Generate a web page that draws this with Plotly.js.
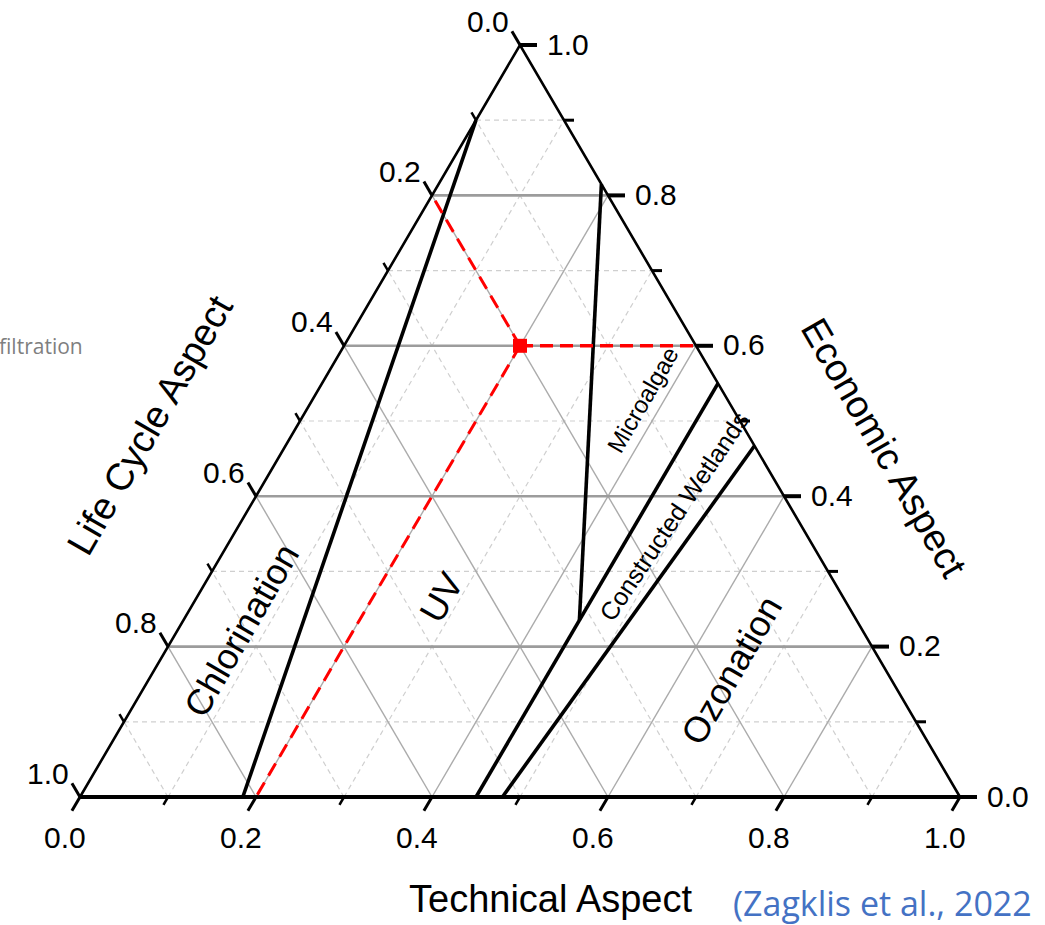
<!DOCTYPE html>
<html><head><meta charset="utf-8">
<script src="https://cdn.plot.ly/plotly-3.0.1.min.js"></script>
<style>html,body{margin:0;padding:0;background:#fff;overflow:hidden}#chart{width:1045px;height:925px}</style>
</head><body><div id="chart"></div>
<script>
// ---- Axis ticks (all three axes share the same values) ----
const majorTicks = [0, 0.2, 0.4, 0.6, 0.8, 1.0];
const minorTicks = [0.1, 0.3, 0.5, 0.7, 0.9];
const tickLabels = ['0.0', '0.2', '0.4', '0.6', '0.8', '1.0'];
const axisTitles = ['Technical Aspect', 'Life Cycle Aspect', 'Economic Aspect'];

// ---- Region boundary lines, given as (Technical, Economic); Life Cycle = 1 - T - E ----
const chlorUvT = [0.0, 0.185];   const chlorUvE = [0.90, 0.0];
const microT   = [0.185, 0.45];  const microE   = [0.815, 0.235];
const uvWetT   = [0.45, 0.45];   const uvWetE   = [0.0, 0.55];
const wetOzT   = [0.48, 0.533];  const wetOzE   = [0.0, 0.467];

// ---- Selected point ----
const pointT = [0.2]; const pointL = [0.2]; const pointE = [0.6];

// ---- Region labels ----
const regionNames = ['Chlorination', 'UV', 'Microalgae', 'Constructed Wetlands', 'Ozonation'];
const sideNote = 'filtration';
const citation = '(Zagklis et al., 2022';

// ---------------------------------------------------------------
const W = 1045, H = 925;
const PX_X = 880, PX_Y = 752;         // pixels per ternary unit
const X0 = 80, Y0 = 797;              // bottom-left corner in pixels
const X = (t, e) => t + e / 2;
const Y = (t, e) => e;
const FONT = 'Liberation Sans, Arial, sans-serif';

const traces = [];
function seg(arrX, arrY, x1, y1, x2, y2) { arrX.push(x1, x2, null); arrY.push(y1, y2, null); }

// grid lines
function gridTrace(vals, color, width, dash) {
  const xs = [], ys = [];
  vals.forEach(v => {
    seg(xs, ys, X(0, v), Y(0, v), X(1 - v, v), Y(1 - v, v));          // constant Economic
    seg(xs, ys, X(v, 0), Y(v, 0), X(v, 1 - v), Y(v, 1 - v));          // constant Technical
    seg(xs, ys, X(1 - v, 0), Y(1 - v, 0), X(0, 1 - v), Y(0, 1 - v));  // constant Life Cycle
  });
  return {x: xs, y: ys, mode: 'lines', line: {color, width, dash}, hoverinfo: 'skip'};
}
traces.push(gridTrace(minorTicks, '#cfcfcf', 1.2, '5px,4px'));
const innerMajor = majorTicks.filter(v => v > 0 && v < 1);
(function () {
  const xs = [], ys = [];
  innerMajor.forEach(v => {
    seg(xs, ys, X(v, 0), Y(v, 0), X(v, 1 - v), Y(v, 1 - v));
    seg(xs, ys, X(1 - v, 0), Y(1 - v, 0), X(0, 1 - v), Y(0, 1 - v));
  });
  traces.push({x: xs, y: ys, mode: 'lines', line: {color: '#ababab', width: 1.4}, hoverinfo: 'skip'});
  const hx = [], hy = [];
  innerMajor.forEach(v => seg(hx, hy, X(0, v), Y(0, v), X(1 - v, v), Y(1 - v, v)));
  traces.push({x: hx, y: hy, mode: 'lines', line: {color: '#9c9c9c', width: 2.6}, hoverinfo: 'skip'});
})();

// ticks
const dBx = -0.505 / PX_X, dBy = -0.863 / PX_Y;   // bottom ticks (down-left)
const dLx = -0.505 / PX_X, dLy = 0.863 / PX_Y;    // left ticks (up-left)
function tickTrace(vals, len, width, which) {
  const xs = [], ys = [];
  vals.forEach(v => {
    let x, y, dx, dy;
    if (which === 'bottom') { x = X(v, 0); y = Y(v, 0); dx = dBx * len; dy = dBy * len; }
    else if (which === 'left') { x = X(0, 1 - v); y = Y(0, 1 - v); dx = dLx * len; dy = dLy * len; }
    else { x = X(1 - v, v); y = Y(1 - v, v); dx = len / PX_X; dy = 0; }
    seg(xs, ys, x, y, x + dx, y + dy);
  });
  return {x: xs, y: ys, mode: 'lines', line: {color: '#000', width}, hoverinfo: 'skip'};
}
traces.push(tickTrace(majorTicks, 16, 3, 'bottom'));
traces.push(tickTrace(minorTicks, 9, 2.5, 'bottom'));
traces.push(tickTrace(majorTicks, 16, 3, 'left'));
traces.push(tickTrace(minorTicks, 9, 2.5, 'left'));
traces.push(tickTrace(majorTicks, 17, 4, 'right'));
traces.push(tickTrace(minorTicks, 10, 3, 'right'));

// triangle edges
traces.push({x: [X(0, 0), X(0, 1), X(1, 0)], y: [Y(0, 0), Y(0, 1), Y(1, 0)], mode: 'lines',
  line: {color: '#000', width: 2.6}, hoverinfo: 'skip'});

// region boundaries
[[chlorUvT, chlorUvE], [microT, microE], [uvWetT, uvWetE], [wetOzT, wetOzE]].forEach(([t, e]) => {
  traces.push({x: t.map((v, i) => X(v, e[i])), y: t.map((v, i) => Y(v, e[i])), mode: 'lines',
    line: {color: '#000', width: 3.6}, hoverinfo: 'skip'});
});

// bottom axis (thick)
traces.push({x: [X(0, 0), X(1, 0)], y: [0, 0], mode: 'lines', line: {color: '#000', width: 4.2}, hoverinfo: 'skip'});

// red guide lines from the point to each axis
const pT = pointT[0], pE = pointE[0], pL = pointL[0];
traces.push({x: [X(pT, pE), X(1 - pE, pE)], y: [Y(pT, pE), Y(1 - pE, pE)], mode: 'lines',
  line: {color: '#ff0000', width: 3.6, dash: '13px,7px'}, hoverinfo: 'skip'});
traces.push({x: [X(pT, pE), X(0, 1 - pL)], y: [Y(pT, pE), Y(0, 1 - pL)], mode: 'lines',
  line: {color: '#ff0000', width: 3, dash: '14px,8px'}, hoverinfo: 'skip'});
traces.push({x: [X(pT, pE), X(pT, 0)], y: [Y(pT, pE), Y(pT, 0)], mode: 'lines',
  line: {color: '#ff0000', width: 3, dash: '14px,8px'}, hoverinfo: 'skip'});
traces.push({x: [X(pT, pE)], y: [Y(pT, pE)], mode: 'markers',
  marker: {symbol: 'square', size: 14, color: '#ff0000'}, hoverinfo: 'skip'});

// annotations
const ann = [];
const tickFont = {family: FONT, size: 30, color: '#000'};
const C = {showarrow: false, xanchor: 'center', yanchor: 'middle'};
majorTicks.forEach((v, i) => {
  ann.push(Object.assign({x: X(v, 0), y: Y(v, 0), xref: 'x', yref: 'y', text: tickLabels[i],
    xshift: -15, yshift: -40, font: tickFont}, C));
  ann.push(Object.assign({x: X(0, 1 - v), y: Y(0, 1 - v), xref: 'x', yref: 'y', text: tickLabels[i],
    xshift: -32, yshift: 24, font: tickFont}, C));
  ann.push(Object.assign({x: X(1 - v, v), y: Y(1 - v, v), xref: 'x', yref: 'y', text: tickLabels[i],
    xshift: 48, yshift: 1, font: tickFont}, C));
});
const px = x => x / W, py = y => 1 - y / H;
const titleFont = {family: FONT, size: 38, color: '#000'};
ann.push(Object.assign({x: px(550), y: py(899), xref: 'paper', yref: 'paper', text: axisTitles[0], font: titleFont}, C));
ann.push(Object.assign({x: px(150), y: py(425), xref: 'paper', yref: 'paper', text: axisTitles[1], textangle: -60, font: titleFont}, C));
ann.push(Object.assign({x: px(884), y: py(448), xref: 'paper', yref: 'paper', text: axisTitles[2], textangle: 60, font: titleFont}, C));

const regionPos = [[241, 630, -60, 36], [441, 597, -60, 36], [642, 400, -60, 24], [674, 516, -56, 25], [731, 670, -60, 36]];
regionNames.forEach((n, i) => {
  const [x, y, a, s] = regionPos[i];
  ann.push(Object.assign({x: px(x), y: py(y), xref: 'paper', yref: 'paper', text: n, textangle: a,
    font: {family: FONT, size: s, color: '#000'}}, C));
});
ann.push({x: 0, y: py(346), xref: 'paper', yref: 'paper', xanchor: 'left', yanchor: 'middle', xshift: -3, text: sideNote, showarrow: false,
  font: {family: 'Open Sans, sans-serif', size: 21, color: '#7f7f7f'}});
ann.push({x: px(731), y: py(903), xref: 'paper', yref: 'paper', xanchor: 'left', yanchor: 'middle', text: citation, showarrow: false,
  font: {family: 'Open Sans, sans-serif', size: 34, color: '#4472c4'}});

const layout = {
  width: W, height: H, margin: {l: 0, r: 0, t: 0, b: 0}, showlegend: false,
  paper_bgcolor: '#fff', plot_bgcolor: '#fff',
  xaxis: {range: [-X0 / PX_X, (W - X0) / PX_X], visible: false, fixedrange: true},
  yaxis: {range: [-(H - Y0) / PX_Y, Y0 / PX_Y], visible: false, fixedrange: true},
  annotations: ann
};
Plotly.newPlot('chart', traces, layout, {displayModeBar: false, staticPlot: true});
</script></body></html>
